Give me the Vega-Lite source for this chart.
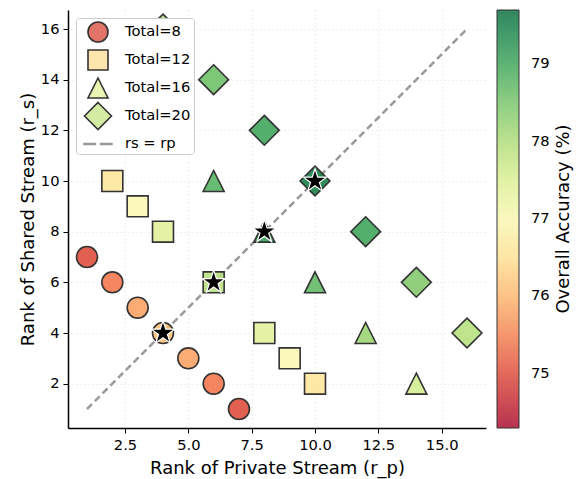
{
  "$schema": "https://vega.github.io/schema/vega-lite/v6.json",
  "width": 418,
  "height": 418,
  "autosize": {"type": "none"},
  "padding": {"left": 68, "top": 10, "right": 90, "bottom": 51},
  "config": {
    "font": "DejaVu Sans",
    "view": {"stroke": null},
    "axis": {
      "domainColor": "#000000",
      "domainWidth": 1.5,
      "tickColor": "#000000",
      "tickSize": 5,
      "tickWidth": 1,
      "labelFont": "DejaVu Sans",
      "labelFontSize": 14.7,
      "labelColor": "#000000",
      "labelPadding": 4,
      "titleFont": "DejaVu Sans",
      "titleFontSize": 18,
      "titleFontWeight": "normal",
      "titleColor": "#000000",
      "grid": true,
      "gridColor": "#b0b0b0",
      "gridOpacity": 0.5,
      "gridDash": [1, 3],
      "gridWidth": 0.8
    },
    "legend": {
      "labelFontSize": 14.7,
      "labelFont": "DejaVu Sans",
      "labelColor": "#000000"
    },
    "point": {"filled": true, "size": 440, "stroke": "#333333", "strokeWidth": 1.6, "fillOpacity": 0.85, "strokeOpacity": 1}
  },
  "datasets": {
    "c8": [
      {"rp": 1, "rs": 7, "acc": 75.0},
      {"rp": 2, "rs": 6, "acc": 75.4},
      {"rp": 3, "rs": 5, "acc": 75.8},
      {"rp": 4, "rs": 4, "acc": 76.1},
      {"rp": 5, "rs": 3, "acc": 75.8},
      {"rp": 6, "rs": 2, "acc": 75.4},
      {"rp": 7, "rs": 1, "acc": 75.0}
    ],
    "s12": [
      {"rp": 2, "rs": 10, "acc": 76.6},
      {"rp": 3, "rs": 9, "acc": 77.0},
      {"rp": 4, "rs": 8, "acc": 77.4},
      {"rp": 6, "rs": 6, "acc": 77.9},
      {"rp": 8, "rs": 4, "acc": 77.4},
      {"rp": 9, "rs": 3, "acc": 77.0},
      {"rp": 10, "rs": 2, "acc": 76.6}
    ],
    "t16": [
      {"rp": 2, "rs": 14, "acc": 77.5},
      {"rp": 4, "rs": 12, "acc": 78.6},
      {"rp": 6, "rs": 10, "acc": 78.8},
      {"rp": 8, "rs": 8, "acc": 79.1},
      {"rp": 10, "rs": 6, "acc": 78.7},
      {"rp": 12, "rs": 4, "acc": 78.2},
      {"rp": 14, "rs": 2, "acc": 77.6}
    ],
    "d20": [
      {"rp": 4, "rs": 16, "acc": 77.9},
      {"rp": 6, "rs": 14, "acc": 78.6},
      {"rp": 8, "rs": 12, "acc": 79.0},
      {"rp": 10, "rs": 10, "acc": 79.5},
      {"rp": 12, "rs": 8, "acc": 79.0},
      {"rp": 14, "rs": 6, "acc": 78.4},
      {"rp": 16, "rs": 4, "acc": 77.9}
    ],
    "diag": [
      {"rp": 1, "rs": 1},
      {"rp": 16, "rs": 16}
    ],
    "best": [
      {"rp": 4, "rs": 4},
      {"rp": 6, "rs": 6},
      {"rp": 8, "rs": 8},
      {"rp": 10, "rs": 10}
    ],
    "none": []
  },
  "encoding": {
    "x": {
      "field": "rp",
      "type": "quantitative",
      "scale": {"domain": [0.25, 16.75], "nice": false, "zero": false},
      "axis": {"title": "Rank of Private Stream (r_p)", "values": [2.5, 5, 7.5, 10, 12.5, 15], "format": ".1f", "titlePadding": 8}
    },
    "y": {
      "field": "rs",
      "type": "quantitative",
      "scale": {"domain": [0.25, 16.75], "nice": false, "zero": false},
      "axis": {"title": "Rank of Shared Stream (r_s)", "values": [2, 4, 6, 8, 10, 12, 14, 16], "titlePadding": 3}
    }
  },
  "layer": [
    {
      "data": {"name": "diag"},
      "mark": {"type": "line", "color": "#999999", "strokeWidth": 2.5, "strokeDash": [7, 4], "opacity": 1},
      "encoding": {}
    },
    {
      "data": {"name": "c8"},
      "mark": {"type": "point", "shape": "circle"},
      "encoding": {
        "fill": {
          "field": "acc", "type": "quantitative",
          "scale": {"scheme": "redyellowgreen", "domain": [74.3, 79.7], "nice": false, "zero": false},
          "legend": {"title": "Overall Accuracy (%)", "orient": "right", "offset": 11, "direction": "vertical", "gradientLength": 418, "gradientThickness": 22, "gradientStrokeColor": "#000000", "gradientStrokeWidth": 1, "values": [75, 76, 77, 78, 79], "format": "d", "labelOffset": 12, "titleOrient": "right", "titleFontSize": 18, "titleFontWeight": "normal", "titleFont": "DejaVu Sans", "titleColor": "#000000", "titleAnchor": "middle", "titleAlign": "center", "titleBaseline": "top", "titlePadding": 5, "titleLimit": 600, "encode": {"gradient": {"update": {"opacity": {"value": 0.8}}}, "title": {"update": {"angle": {"value": 270}}}}}
        }
      }
    },
    {
      "data": {"name": "s12"},
      "mark": {"type": "point", "shape": "square"},
      "encoding": {
        "fill": {
          "field": "acc", "type": "quantitative",
          "scale": {"scheme": "redyellowgreen", "domain": [74.3, 79.7], "nice": false, "zero": false},
          "legend": {"title": "Overall Accuracy (%)", "orient": "right", "offset": 11, "direction": "vertical", "gradientLength": 418, "gradientThickness": 22, "gradientStrokeColor": "#000000", "gradientStrokeWidth": 1, "values": [75, 76, 77, 78, 79], "format": "d", "labelOffset": 12, "titleOrient": "right", "titleFontSize": 18, "titleFontWeight": "normal", "titleFont": "DejaVu Sans", "titleColor": "#000000", "titleAnchor": "middle", "titleAlign": "center", "titleBaseline": "top", "titlePadding": 5, "titleLimit": 600, "encode": {"gradient": {"update": {"opacity": {"value": 0.8}}}, "title": {"update": {"angle": {"value": 270}}}}}
        }
      }
    },
    {
      "data": {"name": "t16"},
      "mark": {"type": "point", "shape": "M0,-1L1,1L-1,1Z"},
      "encoding": {
        "fill": {
          "field": "acc", "type": "quantitative",
          "scale": {"scheme": "redyellowgreen", "domain": [74.3, 79.7], "nice": false, "zero": false},
          "legend": {"title": "Overall Accuracy (%)", "orient": "right", "offset": 11, "direction": "vertical", "gradientLength": 418, "gradientThickness": 22, "gradientStrokeColor": "#000000", "gradientStrokeWidth": 1, "values": [75, 76, 77, 78, 79], "format": "d", "labelOffset": 12, "titleOrient": "right", "titleFontSize": 18, "titleFontWeight": "normal", "titleFont": "DejaVu Sans", "titleColor": "#000000", "titleAnchor": "middle", "titleAlign": "center", "titleBaseline": "top", "titlePadding": 5, "titleLimit": 600, "encode": {"gradient": {"update": {"opacity": {"value": 0.8}}}, "title": {"update": {"angle": {"value": 270}}}}}
        }
      }
    },
    {
      "data": {"name": "d20"},
      "mark": {"type": "point", "shape": "M0,-1.42L1.42,0L0,1.42L-1.42,0Z"},
      "encoding": {
        "fill": {
          "field": "acc", "type": "quantitative",
          "scale": {"scheme": "redyellowgreen", "domain": [74.3, 79.7], "nice": false, "zero": false},
          "legend": {"title": "Overall Accuracy (%)", "orient": "right", "offset": 11, "direction": "vertical", "gradientLength": 418, "gradientThickness": 22, "gradientStrokeColor": "#000000", "gradientStrokeWidth": 1, "values": [75, 76, 77, 78, 79], "format": "d", "labelOffset": 12, "titleOrient": "right", "titleFontSize": 18, "titleFontWeight": "normal", "titleFont": "DejaVu Sans", "titleColor": "#000000", "titleAnchor": "middle", "titleAlign": "center", "titleBaseline": "top", "titlePadding": 5, "titleLimit": 600, "encode": {"gradient": {"update": {"opacity": {"value": 0.8}}}, "title": {"update": {"angle": {"value": 270}}}}}
        }
      }
    },
    {
      "data": {"name": "none"},
      "mark": {"type": "point", "fillOpacity": 1, "opacity": 1},
      "encoding": {
        "shape": {
          "field": "group",
          "type": "nominal",
          "scale": {
            "domain": ["Total=8", "Total=12", "Total=16", "Total=20", "rs = rp"],
            "range": ["circle", "square", "M0,-1L1,1L-1,1Z", "M0,-1.35L1.35,0L0,1.35L-1.35,0Z", "M-1.4,-0.05L-0.26,-0.05L-0.26,0.05L-1.4,0.05ZM0.26,-0.05L1.4,-0.05L1.4,0.05L0.26,0.05Z"]
          },
          "legend": {"title": null, "orient": "top-left", "offset": 8, "fillColor": "#ffffff", "strokeColor": "#cccccc", "cornerRadius": 3, "padding": 3, "rowPadding": -6, "gridAlign": "all", "labelOffset": 16, "symbolOffset": 8, "symbolSize": 400, "symbolStrokeWidth": 1.6, "symbolOpacity": 1}
        },
        "color": {
          "field": "group",
          "type": "nominal",
          "scale": {
            "domain": ["Total=8", "Total=12", "Total=16", "Total=20", "rs = rp"],
            "range": ["#dd5a4e", "#fde2a0", "#e6f2a4", "#cbe792", "#999999"]
          },
          "legend": {"title": null, "orient": "top-left", "offset": 8, "fillColor": "#ffffff", "strokeColor": "#cccccc", "cornerRadius": 3, "padding": 3, "rowPadding": -6, "gridAlign": "all", "labelOffset": 16, "symbolOffset": 8, "symbolSize": 400, "symbolStrokeWidth": 1.6, "symbolOpacity": 1}
        },
        "stroke": {
          "field": "group",
          "type": "nominal",
          "scale": {
            "domain": ["Total=8", "Total=12", "Total=16", "Total=20", "rs = rp"],
            "range": ["#333333", "#333333", "#333333", "#333333", "#999999"]
          },
          "legend": {"title": null, "orient": "top-left", "offset": 8, "fillColor": "#ffffff", "strokeColor": "#cccccc", "cornerRadius": 3, "padding": 3, "rowPadding": -6, "gridAlign": "all", "labelOffset": 16, "symbolOffset": 8, "symbolSize": 400, "symbolStrokeWidth": 1.6, "symbolOpacity": 1}
        }
      }
    },
    {
      "data": {"name": "best"},
      "mark": {"type": "point", "shape": "M0,-1L0.2245,-0.309L0.951,-0.309L0.363,0.118L0.588,0.809L0,0.382L-0.588,0.809L-0.363,0.118L-0.951,-0.309L-0.2245,-0.309Z", "size": 600, "fill": "#000000", "fillOpacity": 1, "stroke": "#ffffff", "strokeWidth": 1.2}
    }
  ]
}
